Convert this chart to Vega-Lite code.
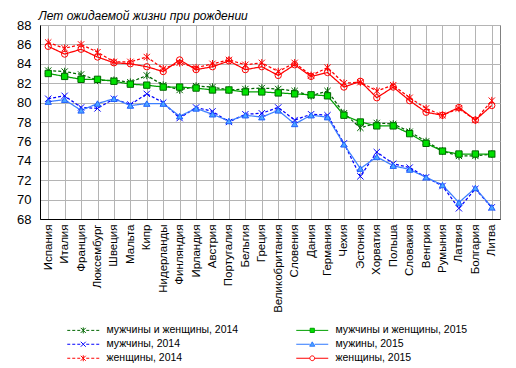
{
  "$schema": "https://vega.github.io/schema/vega-lite/v6.json",
  "width": 460,
  "height": 194,
  "autosize": {"type": "none"},
  "padding": {"left": 40, "top": 25, "right": 16, "bottom": 149},
  "background": "white",
  "title": {"text": "Лет ожидаемой жизни при рождении", "anchor": "start", "dx": 22, "dy": 13, "offset": 0, "font": "Liberation Sans", "fontSize": 12, "fontStyle": "italic", "fontWeight": "normal", "color": "black", "baseline": "alphabetic"},
  "data": {"values": [
    {"c": "Испания", "мужчины и женщины, 2014": 83.3, "мужчины и женщины, 2015": 83.0, "мужчины, 2014": 80.4, "мужины, 2015": 80.1, "женщины, 2014": 86.2, "женщины, 2015": 85.8},
    {"c": "Италия", "мужчины и женщины, 2014": 83.2, "мужчины и женщины, 2015": 82.7, "мужчины, 2014": 80.7, "мужины, 2015": 80.3, "женщины, 2014": 85.6, "женщины, 2015": 85.0},
    {"c": "Франция", "мужчины и женщины, 2014": 82.9, "мужчины и женщины, 2015": 82.4, "мужчины, 2014": 79.5, "мужины, 2015": 79.2, "женщины, 2014": 86.0, "женщины, 2015": 85.5},
    {"c": "Люксембург", "мужчины и женщины, 2014": 82.3, "мужчины и женщины, 2015": 82.4, "мужчины, 2014": 79.4, "мужины, 2015": 79.9, "женщины, 2014": 85.2, "женщины, 2015": 84.7},
    {"c": "Швеция", "мужчины и женщины, 2014": 82.3, "мужчины и женщины, 2015": 82.2, "мужчины, 2014": 80.4, "мужины, 2015": 80.4, "женщины, 2014": 84.2, "женщины, 2015": 84.1},
    {"c": "Мальта", "мужчины и женщины, 2014": 82.1, "мужчины и женщины, 2015": 81.9, "мужчины, 2014": 79.8, "мужины, 2015": 79.7, "женщины, 2014": 84.2, "женщины, 2015": 84.0},
    {"c": "Кипр", "мужчины и женщины, 2014": 82.8, "мужчины и женщины, 2015": 81.8, "мужчины, 2014": 80.9, "мужины, 2015": 79.9, "женщины, 2014": 84.7, "женщины, 2015": 83.7},
    {"c": "Нидерланды", "мужчины и женщины, 2014": 81.8, "мужчины и женщины, 2015": 81.6, "мужчины, 2014": 80.0, "мужины, 2015": 79.9, "женщины, 2014": 83.5, "женщины, 2015": 83.2},
    {"c": "Финляндия", "мужчины и женщины, 2014": 81.3, "мужчины и женщины, 2015": 81.6, "мужчины, 2014": 78.4, "мужины, 2015": 78.6, "женщины, 2014": 84.1, "женщины, 2015": 84.4},
    {"c": "Ирландия", "мужчины и женщины, 2014": 81.7, "мужчины и женщины, 2015": 81.5, "мужчины, 2014": 79.5, "мужины, 2015": 79.4, "женщины, 2014": 83.6, "женщины, 2015": 83.4},
    {"c": "Австрия", "мужчины и женщины, 2014": 81.6, "мужчины и женщины, 2015": 81.3, "мужчины, 2014": 79.1, "мужины, 2015": 78.8, "женщины, 2014": 84.0, "женщины, 2015": 83.7},
    {"c": "Португалия", "мужчины и женщины, 2014": 81.3, "мужчины и женщины, 2015": 81.3, "мужчины, 2014": 78.0, "мужины, 2015": 78.1, "женщины, 2014": 84.4, "женщины, 2015": 84.3},
    {"c": "Бельгия", "мужчины и женщины, 2014": 81.4, "мужчины и женщины, 2015": 81.1, "мужчины, 2014": 78.8, "мужины, 2015": 78.7, "женщины, 2014": 83.9, "женщины, 2015": 83.4},
    {"c": "Греция", "мужчины и женщины, 2014": 81.5, "мужчины и женщины, 2015": 81.1, "мужчины, 2014": 78.9, "мужины, 2015": 78.5, "женщины, 2014": 84.1, "женщины, 2015": 83.7},
    {"c": "Великобритания", "мужчины и женщины, 2014": 81.4, "мужчины и женщины, 2015": 81.0, "мужчины, 2014": 79.5, "мужины, 2015": 79.2, "женщины, 2014": 83.2, "женщины, 2015": 82.8},
    {"c": "Словения", "мужчины и женщины, 2014": 81.2, "мужчины и женщины, 2015": 80.9, "мужчины, 2014": 78.2, "мужины, 2015": 77.8, "женщины, 2014": 84.1, "женщины, 2015": 83.9},
    {"c": "Дания", "мужчины и женщины, 2014": 80.7, "мужчины и женщины, 2015": 80.8, "мужчины, 2014": 78.8, "мужины, 2015": 78.7, "женщины, 2014": 82.8, "женщины, 2015": 82.7},
    {"c": "Германия", "мужчины и женщины, 2014": 81.2, "мужчины и женщины, 2015": 80.7, "мужчины, 2014": 78.7, "мужины, 2015": 78.5, "женщины, 2014": 83.6, "женщины, 2015": 83.1},
    {"c": "Чехия", "мужчины и женщины, 2014": 78.9, "мужчины и женщины, 2015": 78.7, "мужчины, 2014": 75.8, "мужины, 2015": 75.7, "женщины, 2014": 82.0, "женщины, 2015": 81.6},
    {"c": "Эстония", "мужчины и женщины, 2014": 77.4, "мужчины и женщины, 2015": 78.0, "мужчины, 2014": 72.4, "мужины, 2015": 73.2, "женщины, 2014": 82.1, "женщины, 2015": 82.2},
    {"c": "Хорватия", "мужчины и женщины, 2014": 77.9, "мужчины и женщины, 2015": 77.6, "мужчины, 2014": 74.9, "мужины, 2015": 74.4, "женщины, 2014": 81.2, "женщины, 2015": 80.5},
    {"c": "Польша", "мужчины и женщины, 2014": 77.8, "мужчины и женщины, 2015": 77.6, "мужчины, 2014": 73.7, "мужины, 2015": 73.5, "женщины, 2014": 81.8, "женщины, 2015": 81.6},
    {"c": "Словакия", "мужчины и женщины, 2014": 77.0, "мужчины и женщины, 2015": 76.8, "мужчины, 2014": 73.3, "мужины, 2015": 73.1, "женщины, 2014": 80.5, "женщины, 2015": 80.2},
    {"c": "Венгрия", "мужчины и женщины, 2014": 76.0, "мужчины и женщины, 2015": 75.8, "мужчины, 2014": 72.3, "мужины, 2015": 72.3, "женщины, 2014": 79.4, "женщины, 2015": 79.0},
    {"c": "Румыния", "мужчины и женщины, 2014": 75.0, "мужчины и женщины, 2015": 75.0, "мужчины, 2014": 71.4, "мужины, 2015": 71.5, "женщины, 2014": 78.7, "женщины, 2015": 78.7},
    {"c": "Латвия", "мужчины и женщины, 2014": 74.5, "мужчины и женщины, 2015": 74.7, "мужчины, 2014": 69.1, "мужины, 2015": 69.7, "женщины, 2014": 79.4, "женщины, 2015": 79.5},
    {"c": "Болгария", "мужчины и женщины, 2014": 74.5, "мужчины и женщины, 2015": 74.7, "мужчины, 2014": 71.1, "мужины, 2015": 71.2, "женщины, 2014": 78.2, "женщины, 2015": 78.2},
    {"c": "Литва", "мужчины и женщины, 2014": 74.7, "мужчины и женщины, 2015": 74.7, "мужчины, 2014": 69.2, "мужины, 2015": 69.2, "женщины, 2014": 80.2, "женщины, 2015": 79.7}
  ]},
  "transform": [
    {"fold": ["мужчины и женщины, 2014", "мужчины и женщины, 2015", "мужчины, 2014", "мужины, 2015", "женщины, 2014", "женщины, 2015"], "as": ["series", "value"]}
  ],
  "encoding": {
    "x": {"field": "c", "type": "nominal", "sort": null,
      "axis": {"title": null, "labelAngle": -90, "ticks": false, "labelPadding": 5, "domainColor": "black", "domainWidth": 1, "grid": true, "gridColor": "#b4b4b4", "gridWidth": 1, "labelFont": "Liberation Sans", "labelFontSize": 11.5, "labelColor": "black", "labelLimit": 200}},
    "y": {"field": "value", "type": "quantitative",
      "scale": {"domain": [68, 88], "nice": false, "zero": false},
      "axis": {"title": null, "values": [68, 70, 72, 74, 76, 78, 80, 82, 84, 86, 88], "ticks": false, "labelPadding": 9, "domainColor": "black", "domainWidth": 1, "grid": true, "gridColor": "#b4b4b4", "gridWidth": 1, "labelFont": "Liberation Sans", "labelFontSize": 13, "labelColor": "black"}}
  },
  "layer": [
    {
      "mark": {"type": "line", "strokeWidth": 1.25},
      "encoding": {
        "detail": {"field": "series"},
        "color": {"field": "series", "type": "nominal", "legend": null,
          "scale": {"domain": ["мужчины и женщины, 2014", "мужчины и женщины, 2015", "мужчины, 2014", "мужины, 2015", "женщины, 2014", "женщины, 2015"],
                    "range": ["#006600", "#00a000", "#0000ff", "#3d7fff", "#ff0000", "#ff0000"]}},
        "strokeDash": {"field": "series", "type": "nominal", "legend": null,
          "scale": {"domain": ["мужчины и женщины, 2014", "мужчины и женщины, 2015", "мужчины, 2014", "мужины, 2015", "женщины, 2014", "женщины, 2015"],
                    "range": [[3, 2], [1, 0], [3, 2], [1, 0], [3, 2], [1, 0]]}}
      }
    },
    {
      "mark": {"type": "point", "filled": false, "opacity": 1, "strokeWidth": 1, "size": 40},
      "encoding": {
        "shape": {"field": "series", "type": "nominal", "legend": null,
          "scale": {"domain": ["мужчины и женщины, 2014", "мужчины и женщины, 2015", "мужчины, 2014", "мужины, 2015", "женщины, 2014", "женщины, 2015"],
                    "range": ["M-1,-1L1,1M-1,1L1,-1M0,-1.2L0,1.2", "square", "M-1,-1L1,1M-1,1L1,-1", "triangle-up", "M-1,-1L1,1M-1,1L1,-1M0,-1.2L0,1.2", "circle"]}},
        "stroke": {"field": "series", "type": "nominal", "legend": null,
          "scale": {"domain": ["мужчины и женщины, 2014", "мужчины и женщины, 2015", "мужчины, 2014", "мужины, 2015", "женщины, 2014", "женщины, 2015"],
                    "range": ["#006600", "#006600", "#0000ff", "#1f5fff", "#ff0000", "#ff0000"]}},
        "fill": {"field": "series", "type": "nominal", "legend": null,
          "scale": {"domain": ["мужчины и женщины, 2014", "мужчины и женщины, 2015", "мужчины, 2014", "мужины, 2015", "женщины, 2014", "женщины, 2015"],
                    "range": ["transparent", "#00e000", "transparent", "#4da6ff", "transparent", "transparent"]}}
      }
    },
    {
      "transform": [{"filter": "datum.value > 1000"}],
      "mark": {"type": "point", "filled": false, "opacity": 1, "strokeWidth": 1, "size": 36},
      "encoding": {
        "shape": {"field": "series", "type": "nominal",
          "scale": {"domain": ["мужчины и женщины, 2014", "мужчины и женщины, 2015", "мужчины, 2014", "мужины, 2015", "женщины, 2014", "женщины, 2015"],
                    "range": [
                      "M-5.33,0H-4.33M-3.67,0H-2.67M-2,0H-1M1,0H2M2.67,0H3.67M4.33,0H5.33M-0.83,-0.83L0.83,0.83M-0.83,0.83L0.83,-0.83M0,-1L0,1",
                      "M-5.33,0H-0.7M0.7,0H5.33M-0.7,-0.7H0.7V0.7H-0.7Z",
                      "M-5.33,0H-4.33M-3.67,0H-2.67M-2,0H-1M1,0H2M2.67,0H3.67M4.33,0H5.33M-0.83,-0.83L0.83,0.83M-0.83,0.83L0.83,-0.83",
                      "M-5.33,0H-0.8M0.8,0H5.33M0,-0.8L0.85,0.65H-0.85Z",
                      "M-5.33,0H-4.33M-3.67,0H-2.67M-2,0H-1M1,0H2M2.67,0H3.67M4.33,0H5.33M-0.83,-0.83L0.83,0.83M-0.83,0.83L0.83,-0.83M0,-1L0,1",
                      "M-5.33,0H-0.8M0.8,0H5.33M0.8,0A0.8,0.8 0 1 1 -0.8,0A0.8,0.8 0 1 1 0.8,0Z"]},
          "legend": {"title": null, "orient": "none", "legendX": 38, "legendY": 300, "direction": "horizontal", "columns": 2, "columnPadding": 55, "rowPadding": 3, "symbolSize": 36, "labelOffset": 18, "labelFont": "Liberation Sans", "labelFontSize": 10.5, "labelColor": "black", "symbolStrokeWidth": 1}},
        "stroke": {"field": "series", "type": "nominal",
          "scale": {"domain": ["мужчины и женщины, 2014", "мужчины и женщины, 2015", "мужчины, 2014", "мужины, 2015", "женщины, 2014", "женщины, 2015"],
                    "range": ["#006600", "#00a000", "#0000ff", "#2e78ff", "#ff0000", "#ff0000"]},
          "legend": {"title": null, "orient": "none", "legendX": 38, "legendY": 300, "direction": "horizontal", "columns": 2, "columnPadding": 55, "rowPadding": 3, "symbolSize": 36, "labelOffset": 18, "labelFont": "Liberation Sans", "labelFontSize": 10.5, "labelColor": "black", "symbolStrokeWidth": 1}},
        "fill": {"field": "series", "type": "nominal",
          "scale": {"domain": ["мужчины и женщины, 2014", "мужчины и женщины, 2015", "мужчины, 2014", "мужины, 2015", "женщины, 2014", "женщины, 2015"],
                    "range": ["transparent", "#00e000", "transparent", "#4da6ff", "transparent", "transparent"]},
          "legend": {"title": null, "orient": "none", "legendX": 38, "legendY": 300, "direction": "horizontal", "columns": 2, "columnPadding": 55, "rowPadding": 3, "symbolSize": 36, "labelOffset": 18, "labelFont": "Liberation Sans", "labelFontSize": 10.5, "labelColor": "black", "symbolStrokeWidth": 1}}
      }
    }
  ],
  "resolve": {"scale": {"shape": "independent", "stroke": "independent", "fill": "independent"}},
  "config": {"view": {"stroke": "#808080", "strokeWidth": 1}}
}
